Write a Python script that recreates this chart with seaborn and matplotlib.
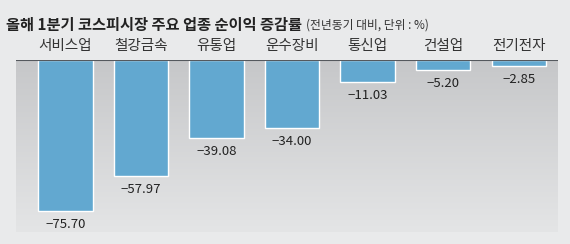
import matplotlib
matplotlib.use("Agg")
import matplotlib.pyplot as plt
import seaborn as sns
import numpy as np
import pandas as pd
from matplotlib.colors import LinearSegmentedColormap

categories = ["서비스업", "철강금속", "유통업", "운수장비", "통신업", "건설업", "전기전자"]
values = [-75.70, -57.97, -39.08, -34.00, -11.03, -5.20, -2.85]
value_labels = ["−75.70", "−57.97", "−39.08", "−34.00", "−11.03", "−5.20", "−2.85"]
title = "올해 1분기 코스피시장 주요 업종 순이익 증감률"
subtitle = "(전년동기 대비, 단위 : %)"

sns.set_style("white")
plt.rcParams['font.family'] = ['Noto Sans CJK KR', 'DejaVu Sans']

W, H = 570, 244
fig = plt.figure(figsize=(W/100, H/100), dpi=100, facecolor="#e9eaeb")
left, right, top, bottom = 16, 558, 60, 232
ax = fig.add_axes([left/W, 1-bottom/H, (right-left)/W, (bottom-top)/H])
ax.set_facecolor("#e9eaeb")

df = pd.DataFrame({"cat": categories, "val": values})
sns.barplot(data=df, x="cat", y="val", color="#62a8d0", width=0.72, ax=ax,
            saturation=1, zorder=3)

# gradient background
grad = np.linspace(0, 1, 256).reshape(-1, 1)
cmap = LinearSegmentedColormap.from_list("g", ["#c6c7c9", "#e4e5e6"])
ax.imshow(grad, extent=[-0.655, 6.52, -86, 0], aspect="auto", cmap=cmap,
          origin="upper", zorder=0)
ax.set_xlim(-0.655, 6.52)
ax.set_ylim(-86, 0)

for s in ax.spines.values():
    s.set_visible(False)
ax.axhline(0, color="#55595e", lw=1.5, zorder=4)
ax.set_yticks([])
ax.xaxis.tick_top()
ax.set_xticks(range(len(categories)))
ax.set_xticklabels(categories, fontsize=10.5, color="#333333")
ax.tick_params(axis="x", length=0, pad=5)
ax.set_xlabel("")
ax.set_ylabel("")

for i, (v, lab) in enumerate(zip(values, value_labels)):
    ax.annotate(lab, (i, v), xytext=(0, -5), textcoords="offset points",
                ha="center", va="top", fontsize=9.5, color="#222222", zorder=5)

t = fig.text(6/W, 1-25/H, title, fontsize=11, fontweight="bold", color="#222222",
             va="center", ha="left")
fig.canvas.draw()
bb = t.get_window_extent(renderer=fig.canvas.get_renderer())
fig.text((bb.x1 + 4)/W, 1-25.5/H, subtitle, fontsize=8.5, color="#333333",
         va="center", ha="left")

fig.savefig("out.png", dpi=100, facecolor=fig.get_facecolor())
